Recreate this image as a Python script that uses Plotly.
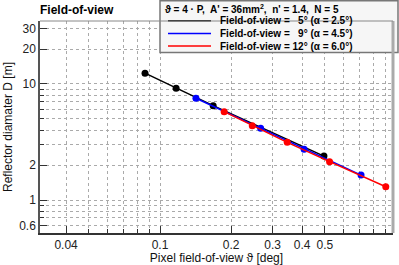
import plotly.graph_objects as go
import numpy as np

# ---- data ----
fov5_theta = [0.0864, 0.117, 0.168, 0.495]
fov5_D = [12.4, 9.18, 6.5, 2.39]
fov9_theta = [0.142, 0.267, 0.408, 0.711]
fov9_D = [7.53, 4.15, 2.74, 1.64]
fov12_theta = [0.187, 0.246, 0.346, 0.523, 0.905]
fov12_D = [5.77, 4.37, 3.14, 2.14, 1.30]

series_names = ["Field-of-view = \u20075\u00b0 (\u03b1 = 2.5\u00b0)",
                "Field-of-view = \u20079\u00b0 (\u03b1 = 4.5\u00b0)",
                "Field-of-view = 12\u00b0 (\u03b1 = 6.0\u00b0)"]
legend_header = "\u03d1 = 4 \u00b7 P,\u00a0 A' = 36mm<sup>2</sup>,\u00a0 n' = 1.4,\u00a0 N = 5"

x_tick_vals = [0.04, 0.1, 0.2, 0.3, 0.4, 0.5]
x_minor_vals = [0.05, 0.06, 0.07, 0.08, 0.09, 0.6, 0.7, 0.8, 0.9]
y_tick_vals = [0.6, 1, 2, 10, 20, 30]
y_minor_vals = [0.7, 0.8, 0.9, 3, 4, 5, 6, 7, 8, 9]

colors = ["#000000", "#0000ff", "#ff0000"]
FONT = "Liberation Sans, Arial, Helvetica, sans-serif"

W, H = 399, 265
L, R, T, B = 40, 6, 21, 32
PW, PH = W - L - R, H - T - B

def px(x):
    return (x - L) / PW

def py(y):
    return (H - B - y) / PH

fig = go.Figure()
for xs, ys, c, n in zip([fov5_theta, fov9_theta, fov12_theta],
                        [fov5_D, fov9_D, fov12_D], colors, series_names):
    fig.add_trace(go.Scatter(x=xs, y=ys, mode="lines+markers", name=n,
                             line=dict(color=c, width=1.5),
                             marker=dict(color=c, size=7),
                             showlegend=False))

shapes = []
annotations = []
# manual legend box
shapes.append(dict(type="rect", xref="paper", yref="paper",
                   x0=px(160), x1=px(398), y0=py(52.5), y1=py(0.8),
                   fillcolor="#f6f6f6", line=dict(color="#777", width=1.5),
                   layer="above"))
annotations.append(dict(xref="paper", yref="paper", x=px(163), y=py(8.5),
                        xanchor="left", yanchor="middle", showarrow=False,
                        text="<b>" + legend_header + "</b>",
                        font=dict(family=FONT, size=10, color="#000")))
for i, (c, n) in enumerate(zip(colors, series_names)):
    yy = 20.7 + i * 12.7
    shapes.append(dict(type="line", xref="paper", yref="paper",
                       x0=px(168), x1=px(211), y0=py(yy), y1=py(yy),
                       line=dict(color=c, width=1.5), layer="above"))
    annotations.append(dict(xref="paper", yref="paper", x=px(218), y=py(yy),
                            xanchor="left", yanchor="middle", showarrow=False,
                            text="<b>" + n + "</b>",
                            font=dict(family=FONT, size=10, color="#000")))
# frame: right and top borders
shapes.append(dict(type="line", xref="paper", yref="paper", x0=1, x1=1,
                   y0=0, y1=1, line=dict(color="#aaaaaa", width=3)))
shapes.append(dict(type="line", xref="paper", yref="paper", x0=0, x1=1,
                   y0=1, y1=1, line=dict(color="#888888", width=1)))

grid = dict(showgrid=True, gridcolor="#aaaaaa", griddash="dot", gridwidth=1)

fig.update_layout(
    width=W, height=H,
    margin=dict(l=L, r=R, t=T, b=B, autoexpand=False),
    paper_bgcolor="white", plot_bgcolor="white",
    font=dict(family=FONT, size=12, color="#000"),
    title=dict(text="<b>Field-of-view</b>", x=0, xref="paper", xanchor="left",
               y=1 - 10 / H, yanchor="middle", yref="container",
               font=dict(family=FONT, size=12, color="#000")),
    xaxis=dict(type="log",
               range=[np.log10(0.03101), np.log10(0.9711)],
               tickmode="array", tickvals=x_tick_vals,
               ticktext=[str(v) for v in x_tick_vals],
               ticks="inside", ticklen=7, tickcolor="#333", tickwidth=1,
               minor=dict(tickmode="array", tickvals=x_minor_vals,
                          ticks="inside", ticklen=4, tickcolor="#333",
                          showgrid=True, gridcolor="#aaaaaa", griddash="dot"),
               showline=True, linecolor="#333", linewidth=1.5, mirror=False,
               tickfont=dict(size=12, color="#222"),
               title=dict(text="Pixel field-of-view \u03d1 [deg]",
                          font=dict(size=12, color="#111"), standoff=4),
               zeroline=False, **grid),
    yaxis=dict(type="log",
               range=[-0.2845, 1.543],
               tickmode="array", tickvals=y_tick_vals,
               ticktext=[str(v) for v in y_tick_vals],
               ticks="inside", ticklen=7, tickcolor="#333", tickwidth=1,
               minor=dict(tickmode="array", tickvals=y_minor_vals,
                          ticks="inside", ticklen=4, tickcolor="#333",
                          showgrid=True, gridcolor="#aaaaaa", griddash="dot"),
               showline=True, linecolor="#555", linewidth=1.5, mirror=False,
               tickfont=dict(size=12, color="#222"),
               title=dict(text="Reflector diamater D [m]",
                          font=dict(size=12, color="#111"), standoff=4),
               zeroline=False, **grid),
    shapes=shapes, annotations=annotations,
)

fig.write_html("out.html", config={"displayModeBar": False},
               post_script="document.body.style.margin='0';document.body.style.padding='0';")
